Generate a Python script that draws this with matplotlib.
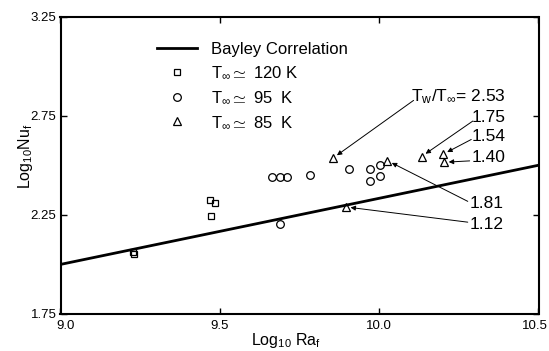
import matplotlib
matplotlib.use('Agg')
import matplotlib.pyplot as plt
from matplotlib.transforms import ScaledTranslation

plt.rcParams['font.family'] = ['Liberation Sans', 'DejaVu Sans']
plt.rcParams['mathtext.fontset'] = 'custom'
plt.rcParams['mathtext.rm'] = 'Liberation Sans'
plt.rcParams['mathtext.it'] = 'Liberation Sans:italic'
plt.rcParams['mathtext.bf'] = 'Liberation Sans:bold'
plt.rcParams['mathtext.default'] = 'rm'

# ---- data ----
bayley_ra = [9.0, 10.5]
bayley_nu = [2.0, 2.5]

sq_ra = [9.228, 9.230, 9.470, 9.486, 9.471]
sq_nu = [2.062, 2.052, 2.325, 2.309, 2.246]

ci_ra = [9.665, 9.688, 9.710, 9.783, 9.690, 9.904, 9.972, 10.003, 9.972, 10.003]
ci_nu = [2.441, 2.441, 2.441, 2.452, 2.206, 2.482, 2.482, 2.500, 2.420, 2.447]

tr_ra = [9.855, 10.026, 10.133, 10.200, 10.203, 9.895]
tr_nu = [2.536, 2.523, 2.544, 2.555, 2.515, 2.290]
tr_ratio = ['2.53', '1.81', '1.75', '1.54', '1.40', '1.12']

x_ticks = [9.0, 9.5, 10.0, 10.5]
x_ticklabels = ['9.0', '9.5', '10.0', '10.5']
y_ticks = [1.75, 2.25, 2.75, 3.25]
y_ticklabels = ['1.75', '2.25', '2.75', '3.25']

series_labels = ['Bayley Correlation',
                 r'T$_\infty$$\simeq$ 120 K',
                 r'T$_\infty$$\simeq$ 95  K',
                 r'T$_\infty$$\simeq$ 85  K']

# ---- figure ----
fig = plt.figure(figsize=(5.49, 3.51), dpi=100)
ax = fig.add_axes([60.5 / 549, (351 - 314) / 351, 478 / 549, 297.5 / 351])

ax.plot(bayley_ra, bayley_nu, color='k', lw=2.0, label=series_labels[0])
mk = dict(ls='none', mfc='none', mec='k', mew=0.9)
ax.plot(sq_ra, sq_nu, marker='s', ms=5, label=series_labels[1], **mk)
ax.plot(ci_ra, ci_nu, marker='o', ms=5.5, label=series_labels[2], **mk)
ax.plot(tr_ra, tr_nu, marker='^', ms=6, label=series_labels[3], **mk)

ax.set_xlim(9.0, 10.5)
ax.set_ylim(1.75, 3.25)
ax.set_xticks(x_ticks)
ax.set_xticklabels(x_ticklabels)
ax.set_yticks(y_ticks)
ax.set_yticklabels(y_ticklabels)
ax.tick_params(direction='in', top=True, right=True, length=4.5, width=1.0,
               labelsize=9.5)
ax.tick_params(axis='x', pad=4)
ax.tick_params(axis='y', pad=3)
for s in ax.spines.values():
    s.set_linewidth(1.5)

# shift edge x tick labels inward like the original
xl = ax.get_xticklabels()
xl[0].set_transform(xl[0].get_transform() + ScaledTranslation(5 / 100, 0, fig.dpi_scale_trans))
xl[-1].set_transform(xl[-1].get_transform() + ScaledTranslation(-4 / 100, 0, fig.dpi_scale_trans))

ax.set_xlabel(r'Log$_{10}$ Ra$_\mathrm{f}$', fontsize=11.5)
ax.set_ylabel(r'Log$_{10}$Nu$_\mathrm{f}$', fontsize=11.5)
ax.xaxis.set_label_coords(0.472, -0.058)
ax.yaxis.set_label_coords(-0.053, 0.53)

ax.legend(loc='upper left', bbox_to_anchor=(0.201, 0.915), frameon=False,
          fontsize=12, handlelength=2.4, handletextpad=0.85, labelspacing=0.5,
          borderpad=0, borderaxespad=0)

# ---- annotations of T_w/T_inf ----
text_pos = {'2.53': (10.101, 2.844), '1.81': (10.284, 2.305), '1.75': (10.289, 2.743),
            '1.54': (10.289, 2.647), '1.40': (10.289, 2.541), '1.12': (10.284, 2.200)}
tail_pos = {'2.53': (10.108, 2.827), '1.81': (10.278, 2.318), '1.75': (10.294, 2.723),
            '1.54': (10.289, 2.630), '1.40': (10.284, 2.522), '1.12': (10.278, 2.213)}
for r, x, y in zip(tr_ratio, tr_ra, tr_nu):
    tx, ty = text_pos[r]
    label = (r'T$_\mathrm{w}$/T$_\infty$= ' + r) if r == '2.53' else r
    ax.text(tx, ty, label, fontsize=12.5, ha='left', va='center')
    ax.annotate('', xy=(x, y), xytext=tail_pos[r],
                arrowprops=dict(arrowstyle='-|>', color='k', lw=0.7,
                                mutation_scale=7, shrinkA=0, shrinkB=3.5))

fig.savefig('out.png', dpi=100)
